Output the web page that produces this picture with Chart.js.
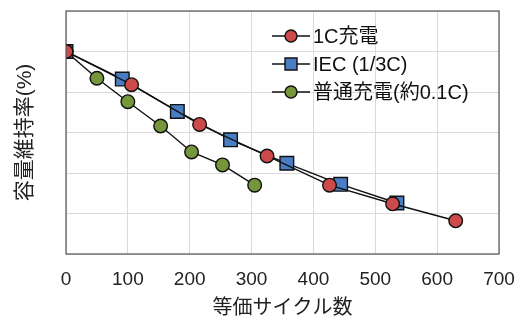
<!DOCTYPE html>
<html>
<head>
<meta charset="utf-8">
<script src="https://cdn.jsdelivr.net/npm/chart.js@4.4.0/dist/chart.umd.min.js"></script>
<style>
  html, body { margin: 0; padding: 0; background: #fff; }
  #wrap { width: 514px; height: 320px; }
</style>
</head>
<body>
<div id="wrap"><canvas id="cyc"></canvas></div>
<script>
// data
var cycles1C  = [0, 106, 216, 325, 426, 528, 630];
var cap1C     = [100, 95.9, 91.0, 87.1, 83.5, 81.2, 79.1];
var cyclesIEC = [0, 91, 180, 266, 357, 444, 535];
var capIEC    = [100, 96.6, 92.6, 89.1, 86.2, 83.6, 81.3];
var cyclesStd = [0, 50, 100, 153, 203, 253, 305];
var capStd    = [100, 96.7, 93.8, 90.8, 87.6, 86.0, 83.5];
var seriesNames = ["1C充電", "IEC (1/3C)", "普通充電(約0.1C)"];
var xTicks = [0, 100, 200, 300, 400, 500, 600, 700];

var FONT = "'Liberation Sans', Arial, 'Noto Sans CJK JP', sans-serif";

function pts(xs, ys){
	var out = [];
	for (var i = 0; i < xs.length; i++) out.push({x: xs[i], y: ys[i]});
	return out;
}

function mkSet(lbl, xs, ys, col, shape){
	return {
		label: lbl,
		data: pts(xs, ys),
		showLine: true,
		borderColor: "#111",
		borderWidth: 1.4,
		pointStyle: shape,
		pointRadius: shape == "rect" ? 9.6 : 6.8,
		pointBackgroundColor: col,
		pointBorderColor: "#111",
		pointBorderWidth: 1.4
	};
}

var sets = [
	mkSet(seriesNames[0], cycles1C, cap1C, "#CD4A4A", "circle"),
	mkSet(seriesNames[1], cyclesIEC, capIEC, "#4A7EC4", "rect"),
	mkSet(seriesNames[2], cyclesStd, capStd, "#76963A", "circle")
];

// legend drawn inside the plot, line + marker like the original
var boxLegend = {
	id: "boxLegend",
	afterDraw: function(chart){
		var c = chart.ctx, a = chart.chartArea;
		c.save();
		c.strokeStyle = "#555";
		c.lineWidth = 1.2;
		c.strokeRect(a.left, a.top, a.right - a.left, a.bottom - a.top);
		var x0 = a.right - 227, rowY = [36, 64, 92];
		for (var i = 0; i < sets.length; i++){
			var d = sets[i], y = rowY[i];
			c.strokeStyle = "#111"; c.lineWidth = 1.4;
			c.beginPath(); c.moveTo(x0, y); c.lineTo(x0 + 38, y); c.stroke();
			c.fillStyle = d.pointBackgroundColor;
			c.beginPath();
			if (d.pointStyle == "rect") c.rect(x0 + 13, y - 6, 12, 12);
			else c.arc(x0 + 19, y, 6, 0, Math.PI * 2);
			c.fill(); c.stroke();
			c.fillStyle = "#111";
			c.font = "20px " + FONT;
			c.textBaseline = "middle";
			c.fillText(d.label, x0 + 41, y + 1);
		}
		c.restore();
	}
};

new Chart(document.getElementById("cyc"), {
	type: "scatter",
	data: { datasets: sets },
	plugins: [boxLegend],
	options: {
		responsive: true,
		maintainAspectRatio: false,
		animation: false,
		layout: { padding: { top: 10, right: 0, left: 0, bottom: 0 } },
		plugins: { legend: { display: false }, tooltip: { enabled: false } },
		scales: {
			x: {
				type: "linear", min: 0, max: 700,
				afterBuildTicks: function(s){ s.ticks = xTicks.map(function(v){ return {value: v}; }); },
				afterFit: function(s){ s.height = 66; s.paddingRight = 15; s.paddingLeft = 0; },
				grid: { color: "#dadada", lineWidth: 1, drawTicks: false },
				border: { display: false },
				ticks: { color: "#222", font: { size: 19, family: FONT }, padding: 14, maxRotation: 0, autoSkip: false },
				title: { display: true, text: "等価サイクル数", color: "#222", font: { size: 20, family: FONT }, padding: { top: 6, bottom: 0 } }
			},
			y: {
				min: 75, max: 105,
				ticks: { stepSize: 5, display: false },
				afterFit: function(s){ s.width = 66; },
				grid: { color: "#dadada", lineWidth: 1, drawTicks: false },
				border: { display: false },
				title: { display: true, text: "容量維持率(%)", color: "#222", font: { size: 21, family: FONT }, padding: { top: 13, bottom: 0 } }
			}
		}
	}
});
</script>
</body>
</html>
